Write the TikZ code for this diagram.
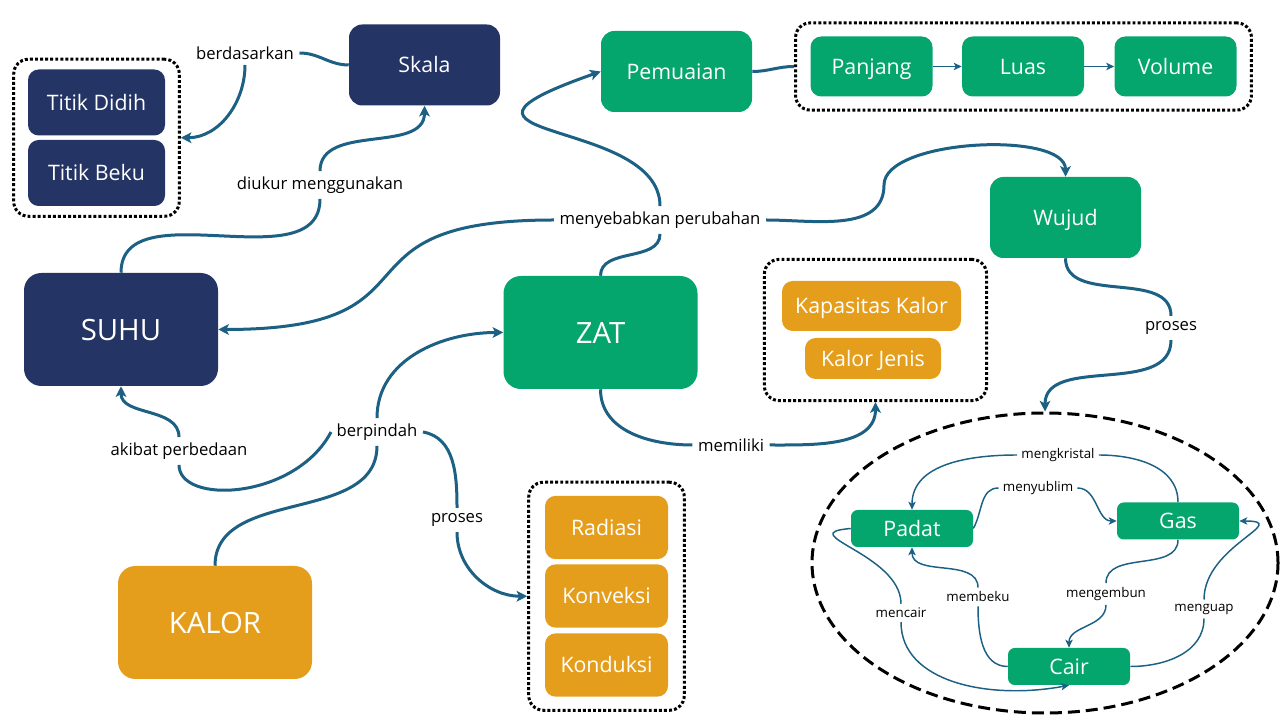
\documentclass[tikz,border=0pt]{standalone}
\usepackage{fontspec}
\setmainfont{Open Sans}
\usepackage{tikz}
\usetikzlibrary{arrows.meta,shapes.geometric,fit}

\definecolor{navy}{RGB}{36,52,100}
\definecolor{zgreen}{RGB}{5,165,110}
\definecolor{amber}{RGB}{229,158,27}
\definecolor{linkblue}{RGB}{28,96,131}

\tikzset{
  box/.style={rounded corners=8pt, inner sep=0pt, text=white, align=center, text height=11.5pt, text depth=0pt, font=\fontsize{16}{19}\selectfont},
  bigbox/.style={box, rounded corners=13pt, minimum width=145.5pt, minimum height=84.75pt, text height=15.8pt, font=\fontsize{22}{26}\selectfont},
  midbox/.style={box, rounded corners=10pt, minimum width=113.25pt, minimum height=60.75pt},
  pointbox/.style={box, fill=navy, minimum width=102.75pt, minimum height=49.5pt},
  rowbox/.style={box, fill=zgreen, minimum width=91.5pt, minimum height=45pt},
  colbox/.style={box, fill=amber, minimum width=92.25pt, minimum height=47.5pt},
  statebox/.style={box, fill=zgreen, rounded corners=5pt, minimum width=91.5pt, minimum height=27.75pt},
  groupbox/.style={draw=black, line width=2.25pt, dash pattern=on 2.2pt off 1.6pt, rounded corners=11pt},
  linklabel/.style={inner sep=4pt, font=\fontsize{12.5}{15}\selectfont},
  phaselabel/.style={inner sep=3pt, font=\fontsize{10}{12}\selectfont},
  link/.style={draw=linkblue, line width=2.25pt},
  linkarrow/.style={link, -{Stealth[length=8pt,width=8pt,inset=2pt]}},
  phase/.style={draw=linkblue, line width=1.1pt},
  phasearrow/.style={phase, -{Stealth[length=6pt,width=5.5pt,inset=1.5pt]}}
}

\begin{document}
\begin{tikzpicture}[x=0.75pt,y=0.75pt]
\useasboundingbox (0,0) rectangle (1280,720);

%Shape: Rounded Rect [main nodes]
\node[bigbox, fill=navy] (suhu) at (121,390.5) {SUHU};
\node[bigbox, fill=zgreen] (zat) at (600.5,387.5) {ZAT};
\node[bigbox, fill=amber] (kalor) at (215,97.5) {KALOR};
\node[midbox, fill=navy] (skala) at (424.5,655) {Skala};
\node[midbox, fill=zgreen] (pemuaian) at (676.5,648.5) {Pemuaian};
\node[midbox, fill=zgreen] (wujud) at (1065.5,502.5) {Wujud};

%Shape: Rounded Rect [grouped nodes]
\node[pointbox] (didih) at (96.5,617.5) {Titik Didih};
\node[pointbox] (beku) at (96.5,547) {Titik Beku};
\node[rowbox] (panjang) at (871.5,653.5) {Panjang};
\node[rowbox] (luas) at (1023,653.5) {Luas};
\node[rowbox] (volume) at (1175.5,653.5) {Volume};
\node[colbox] (radiasi) at (606.5,192.5) {Radiasi};
\node[colbox] (konveksi) at (606.5,124) {Konveksi};
\node[colbox] (konduksi) at (606.5,55) {Konduksi};
\node[box, fill=amber, minimum width=134.25pt, minimum height=37.5pt] (kapasitas) at (871.5,414) {Kapasitas Kalor};
\node[box, fill=amber, minimum width=102pt, minimum height=30.75pt] (jenis) at (873,361.5) {Kalor Jenis};

%Shape: Dotted groups
\node[groupbox, inner xsep=10.5pt, inner ysep=7.5pt, fit=(didih)(beku)] (titikgroup) {};
\node[groupbox, inner xsep=11pt, inner ysep=10pt, fit=(panjang)(volume)] (dimensigroup) {};
\node[groupbox, inner xsep=16pt, inner ysep=16pt, xshift=3pt, fit=(kapasitas)(jenis)] (kalorgroup) {};
\node[groupbox, inner xsep=12pt, inner ysep=10pt, fit=(radiasi)(konduksi)] (radiasigroup) {};

%Shape: Ellipse [phases]
\node[draw=black, line width=2.25pt, dash pattern=on 9pt off 4.5pt, ellipse, inner sep=0pt, minimum width=349.5pt, minimum height=225pt] (states) at (1045,157) {};
\node[statebox] (padat) at (912,191.5) {Padat};
\node[statebox] (gas) at (1178,199) {Gas};
\node[statebox] (cair) at (1069,53.5) {Cair};

% Text Node
\node[linklabel] (berdasarkan) at (245,667) {berdasarkan};
\node[linklabel] (diukur) at (320,535) {diukur menggunakan};
\node[linklabel] (menyebabkan) at (660,500) {menyebabkan perubahan};
\node[linklabel] (akibat) at (179,269) {akibat perbedaan};
\node[linklabel] (berpindah) at (377,288) {berpindah};
\node[linklabel] (prosesa) at (457,200) {proses};
\node[linklabel] (memiliki) at (731,275) {memiliki};
\node[linklabel] (prosesb) at (1171,392) {proses};
\node[phaselabel] (mengkristal) at (1058,265) {mengkristal};
\node[phaselabel] (menyublim) at (1038,232) {menyublim};
\node[phaselabel] (mencair) at (901,107) {mencair};
\node[phaselabel] (membeku) at (978,123) {membeku};
\node[phaselabel] (mengembun) at (1106,126) {mengembun};
\node[phaselabel] (menguap) at (1204,111) {menguap};
\coordinate (wujudbend) at (884,535);

%Curve Lines [SUHU]
\draw[link] (suhu.north) to[out=90,in=-90] (diukur.south);
\draw[linkarrow] (diukur.north) to[out=90,in=-90] (skala.south);
\draw[link] (skala.west) to[out=180,in=0] (berdasarkan.east);
\draw[linkarrow] (berdasarkan.south) to[out=-90,in=0] (titikgroup.east);

%Curve Lines [ZAT]
\draw[link] (zat.north) to[out=90,in=-90] (menyebabkan.south);
\draw[linkarrow] (menyebabkan.west) to[out=180,in=0,looseness=1.7] (suhu.east);
\draw[linkarrow] (menyebabkan.north) .. controls +(0,90) and +(-200,-70) .. (pemuaian.west);
\draw[linkarrow] (menyebabkan.east) to[out=0,in=-90] (wujudbend) to[out=90,in=90,looseness=0.65] (wujud.north);
\draw[link] (pemuaian.east) to[out=0,in=180] (dimensigroup.west);
\draw[phasearrow] (panjang) -- (luas);
\draw[phasearrow] (luas) -- (volume);
\draw[link] (wujud.south) to[out=-90,in=90] (prosesb.north);
\draw[linkarrow] (prosesb.south) to[out=-90,in=90] (states.north);
\draw[link] (zat.south) to[out=-90,in=180] (memiliki.west);
\draw[linkarrow] (memiliki.east) to[out=0,in=-90] (kalorgroup.south);

%Curve Lines [KALOR]
\draw[link] (kalor.north) to[out=90,in=-90] (berpindah.south);
\draw[linkarrow] (berpindah.north) to[out=90,in=180] (zat.west);
\draw[link] (berpindah.west) .. controls (295,220) and (179,215) .. (akibat.south);
\draw[linkarrow] (akibat.north) to[out=90,in=-90] (suhu.south);
\draw[link] (berpindah.east) to[out=-10,in=90] (prosesa.north);
\draw[linkarrow] (prosesa.south) to[out=-90,in=180] (radiasigroup.west);

%Curve Lines [phases]
\draw[phase] (gas.north) to[out=90,in=0] (mengkristal.east);
\draw[phasearrow] (mengkristal.west) to[out=180,in=90] (padat.north);
\draw[phase] (padat.east) to[out=60,in=180] (menyublim.west);
\draw[phasearrow] (menyublim.east) to[out=0,in=180] (gas.west);
\draw[phase] (padat.west) .. controls +(-60,-5) and +(0,50) .. (mencair.north);
\draw[phasearrow] (mencair.south) .. controls +(0,-60) and +(-80,-15) .. (cair.south);
\draw[phase] (cair.west) to[out=180,in=-90] (membeku.south);
\draw[phasearrow] (membeku.north) to[out=90,in=-90] (padat.south);
\draw[phase] (gas.south) to[out=-90,in=90] (mengembun.north);
\draw[phasearrow] (mengembun.south) to[out=-90,in=90] (cair.north);
\draw[phase] (cair.east) to[out=0,in=-90] (menguap.south);
\draw[phasearrow] (menguap.north) to[out=90,in=0,looseness=1.6] (gas.east);

\end{tikzpicture}
\end{document}
